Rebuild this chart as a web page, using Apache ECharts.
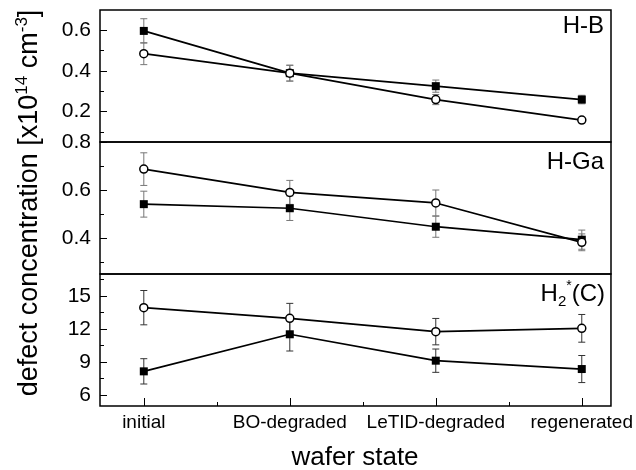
<!DOCTYPE html>
<html><head><meta charset="utf-8">
<script src="https://cdn.jsdelivr.net/npm/echarts@6/dist/echarts.min.js"></script>
<style>html,body{margin:0;padding:0;background:#fff}#c{width:636px;height:470px}</style>
</head><body><div id="c"></div>
<script>
const categories = ['initial', 'BO-degraded', 'LeTID-degraded', 'regenerated'];
const xMajorTicks = [1, 2, 3, 4];
const xMinorTicks = [1.5, 2.5, 3.5];

const hbSquare = [0.597, 0.389, 0.325, 0.259];
const hbSquareErr = [0.06, 0.039, 0.03, 0.021];
const hbCircle = [0.485, 0.389, 0.259, 0.158];
const hbCircleErr = [0.054, 0.039, 0.025, 0.01];

const hgaCircle = [0.687, 0.59, 0.546, 0.382];
const hgaCircleErr = [0.068, 0.05, 0.054, 0.035];
const hgaSquare = [0.541, 0.524, 0.447, 0.393];
const hgaSquareErr = [0.054, 0.051, 0.044, 0.04];

const h2Circle = [13.94, 12.97, 11.76, 12.06];
const h2CircleErr = [1.56, 1.36, 1.2, 1.26];
const h2Square = [8.15, 11.52, 9.12, 8.36];
const h2SquareErr = [1.15, 1.52, 1.06, 1.23];

const panel1Major = [0.2, 0.4, 0.6];
const panel1Minor = [0.1, 0.3, 0.5];
const panel2Major = [0.4, 0.6, 0.8];
const panel2Minor = [0.3, 0.5, 0.7];
const panel3Major = [6, 9, 12, 15];
const panel3Minor = [7.5, 10.5, 13.5, 16.5];

const FONT = '"Liberation Sans", Arial, sans-serif';

function pts(arr) { return arr.map((v, i) => [i + 1, v]); }
function errPts(arr, err) { return arr.map((v, i) => [i + 1, v, err[i]]); }

function errSeries(arr, err, idx, color) {
  return {
    type: 'custom', xAxisIndex: idx, yAxisIndex: idx * 2, z: 1,
    data: errPts(arr, err), silent: true,
    renderItem: function (params, api) {
      const x = api.value(0), y = api.value(1), e = api.value(2);
      const t = api.coord([x, y + e]), b = api.coord([x, y - e]);
      const c = 3.5;
      const st = { stroke: color, lineWidth: 1 };
      return { type: 'group', children: [
        { type: 'line', shape: { x1: t[0], y1: t[1], x2: b[0], y2: b[1] }, style: st },
        { type: 'line', shape: { x1: t[0] - c, y1: t[1], x2: t[0] + c, y2: t[1] }, style: st },
        { type: 'line', shape: { x1: b[0] - c, y1: b[1], x2: b[0] + c, y2: b[1] }, style: st }
      ]};
    }
  };
}
function lineSeries(arr, idx, open) {
  return {
    type: 'line', xAxisIndex: idx, yAxisIndex: idx * 2, z: 3,
    data: pts(arr), symbol: open ? 'circle' : 'rect', symbolSize: 8,
    showSymbol: true, silent: true,
    lineStyle: { color: '#000', width: 1.7 },
    itemStyle: open ? { color: '#fff', borderColor: '#000', borderWidth: 1.5 } : { color: '#000', borderWidth: 0 }
  };
}

const grids = [
  { left: 100, right: 25, top: 10, height: 132 },
  { left: 100, right: 25, top: 142, height: 132 },
  { left: 100, right: 25, top: 274, height: 132 }
].map(g => Object.assign(g, { show: true, borderColor: '#000', borderWidth: 1.5, backgroundColor: 'transparent', containLabel: false }));

function xAx(gi, opts) {
  return Object.assign({
    type: 'value', gridIndex: gi, min: 0.7, max: 4.2, position: 'bottom',
    axisLine: { show: false }, splitLine: { show: false },
    axisTick: { show: false }, axisLabel: { show: false }
  }, opts || {});
}
function yAx(gi, min, max, major, minor, isMajor) {
  return {
    type: 'value', gridIndex: gi, min: min, max: max, position: 'left',
    axisLine: { show: false }, splitLine: { show: false },
    axisTick: isMajor ? { show: true, inside: true, length: 7, lineStyle: { color: '#000', width: 1 }, customValues: major }
                      : { show: true, inside: true, length: 4, lineStyle: { color: '#000', width: 1 }, customValues: minor },
    axisLabel: isMajor ? { show: true, customValues: major, margin: 9, fontSize: 21, color: '#000', fontFamily: FONT } : { show: false }
  };
}

const xAxes = [
  xAx(0), xAx(1),
  xAx(2, {
    axisTick: { show: true, inside: true, length: 8, lineStyle: { color: '#000', width: 1 }, customValues: xMajorTicks },
    axisLabel: { show: true, customValues: xMajorTicks, margin: 7, fontSize: 19, color: '#000', fontFamily: FONT,
      formatter: v => categories[Math.round(v) - 1] || '' }
  }),
  xAx(2, {
    axisTick: { show: true, inside: true, length: 4, lineStyle: { color: '#000', width: 1 }, customValues: xMinorTicks }
  })
];
const yAxes = [
  yAx(0, 0.05, 0.7, panel1Major, panel1Minor, true),
  yAx(0, 0.05, 0.7, panel1Major, panel1Minor, false),
  yAx(1, 0.25, 0.8, panel2Major, panel2Minor, true),
  yAx(1, 0.25, 0.8, panel2Major, panel2Minor, false),
  yAx(2, 5, 17, panel3Major, panel3Minor, true),
  yAx(2, 5, 17, panel3Major, panel3Minor, false)
];

const labelStyle = { fontSize: 24, fontWeight: 'normal', color: '#000', fontFamily: FONT };
const chart = echarts.init(document.getElementById('c'), null, { renderer: 'canvas' });
chart.setOption({
  animation: false,
  backgroundColor: '#fff',
  grid: grids,
  xAxis: xAxes,
  yAxis: yAxes,
  title: [
    { text: 'H-B', right: 32, top: 14, padding: 0, textStyle: labelStyle },
    { text: 'H-Ga', right: 32, top: 150, padding: 0, textStyle: labelStyle },
    { text: '{a|H}{sub|2}{sup|*}{a|(C)}', right: 31, top: 279, padding: 0, textStyle: { fontFamily: FONT, color: '#000', fontWeight: 'normal',
      rich: {
        a: { fontSize: 24, lineHeight: 30, fontFamily: FONT, color: '#000', fontWeight: 'normal' },
        sub: { fontSize: 15, lineHeight: 14, verticalAlign: 'bottom', fontFamily: FONT, color: '#000', fontWeight: 'normal' },
        sup: { fontSize: 14, lineHeight: 16, verticalAlign: 'top', fontFamily: FONT, color: '#000', fontWeight: 'normal' }
      } } }
  ],
  graphic: [
    { type: 'text', x: 355, y: 458, style: { text: 'wafer state', fontSize: 26, fontFamily: FONT, fill: '#000', align: 'center', verticalAlign: 'middle' } },
    { type: 'text', x: 30, y: 203, rotation: Math.PI / 2, style: {
      text: '{a|defect concentration [x10}{sup|14}{a| cm}{sup|-3}{a|]}',
      align: 'center', verticalAlign: 'middle', fill: '#000',
      rich: {
        a: { fontSize: 27, lineHeight: 32, fontFamily: FONT, fill: '#000' },
        sup: { fontSize: 17, lineHeight: 17, verticalAlign: 'top', fontFamily: FONT, fill: '#000' }
      } } }
  ],
  series: [
    errSeries(hbSquare, hbSquareErr, 0, '#777'),
    errSeries(hbCircle, hbCircleErr, 0, '#777'),
    errSeries(hgaSquare, hgaSquareErr, 1, '#777'),
    errSeries(hgaCircle, hgaCircleErr, 1, '#777'),
    errSeries(h2Square, h2SquareErr, 2, '#333'),
    errSeries(h2Circle, h2CircleErr, 2, '#333'),
    lineSeries(hbSquare, 0, false),
    lineSeries(hbCircle, 0, true),
    lineSeries(hgaSquare, 1, false),
    lineSeries(hgaCircle, 1, true),
    lineSeries(h2Square, 2, false),
    lineSeries(h2Circle, 2, true)
  ]
});
</script>
</body></html>
